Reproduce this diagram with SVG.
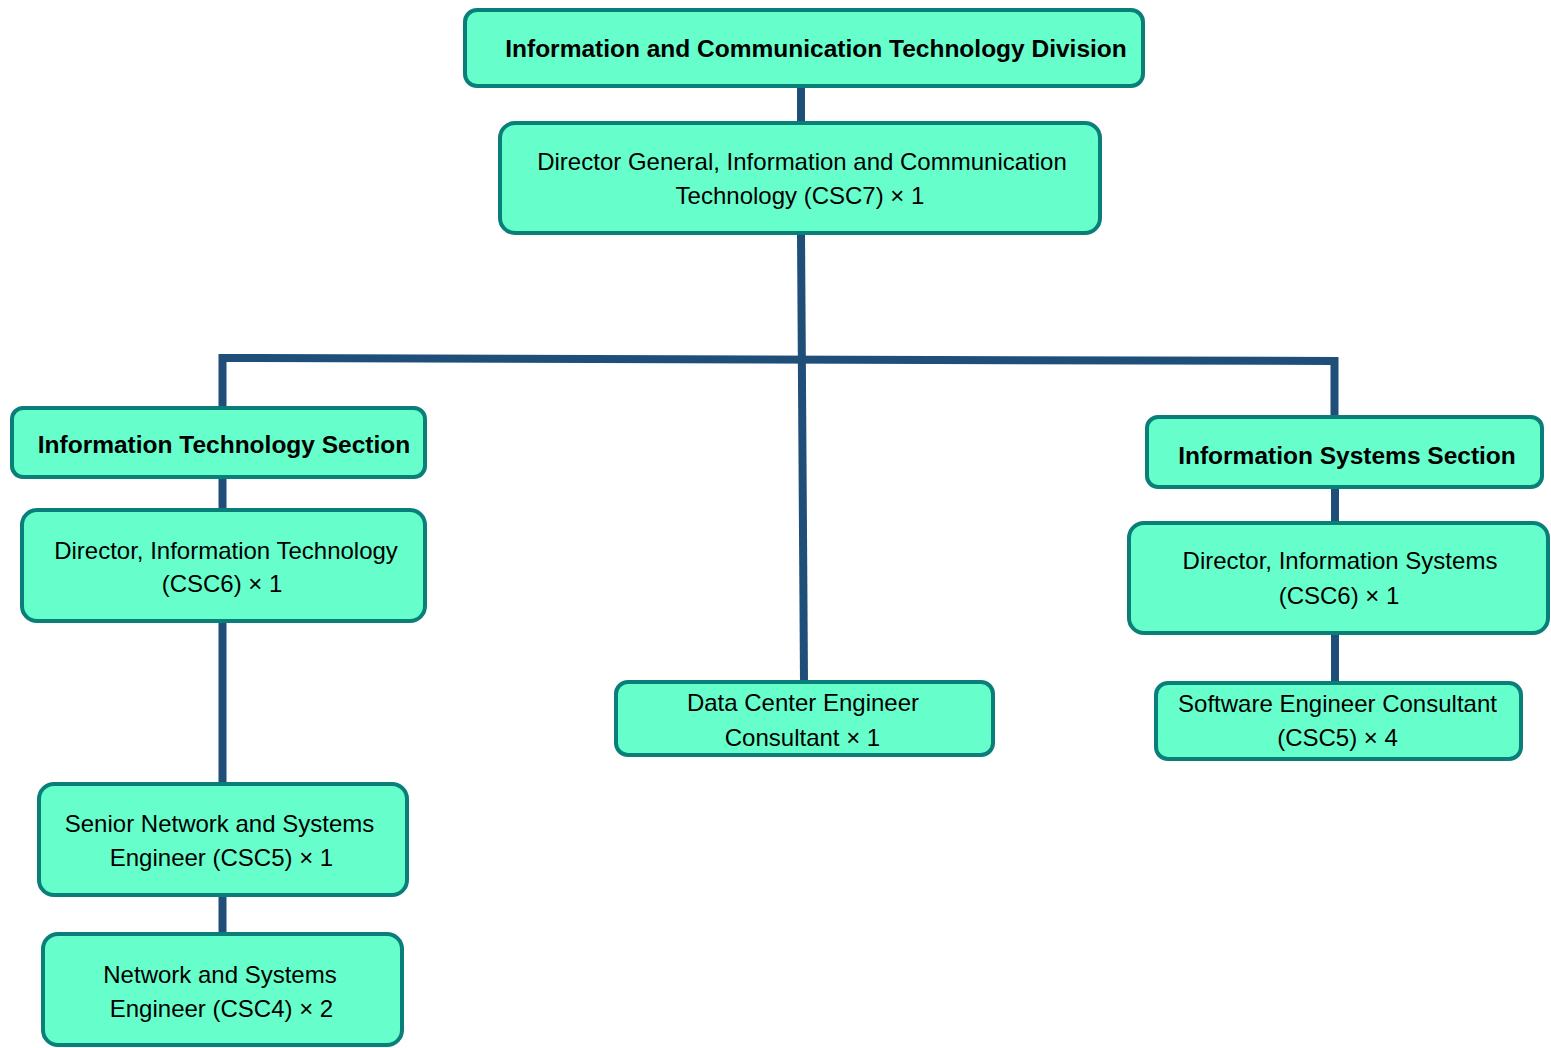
<svg xmlns="http://www.w3.org/2000/svg" width="1551" height="1048" viewBox="0 0 1551 1048">
<style>
.box{fill:#66FFCC;stroke:#0A7F7A;stroke-width:4}
.t{font-family:"Liberation Sans",Arial,sans-serif;font-size:24px;fill:#000;text-anchor:middle}
.b{font-weight:bold;font-size:24.5px}
.c{fill:none;stroke:#1F4E79;stroke-width:8;stroke-linejoin:miter;stroke-linecap:butt}
</style>
<rect width="1551" height="1048" fill="#FFFFFF"/>
<g id="connectors">
<path class="c" d="M801,86 L801,123"/>
<path class="c" d="M801,233 L804,682"/>
<path class="c" d="M222.5,408 L222.5,358 L1334.5,361 L1334.5,417"/>
<path class="c" d="M222.5,477 L222.5,510"/>
<path class="c" d="M222.5,621 L222.5,784"/>
<path class="c" d="M222.5,895 L222.5,934"/>
<path class="c" d="M1335,487 L1335,523"/>
<path class="c" d="M1335,633 L1335,683"/>
</g>
<g id="n-division">
<rect class="box" x="465" y="10" width="678" height="76" rx="12"/>
<text class="t b" x="816" y="57">Information and Communication Technology Division</text>
</g>
<g id="n-director-general">
<rect class="box" x="500" y="123" width="600" height="110" rx="15"/>
<text class="t" x="802" y="170">Director General, Information and Communication</text>
<text class="t" x="800" y="204">Technology (CSC7) × 1</text>
</g>
<g id="n-it-section">
<rect class="box" x="12" y="408" width="413" height="69" rx="11"/>
<text class="t b" x="224" y="453">Information Technology Section</text>
</g>
<g id="n-director-it">
<rect class="box" x="22" y="510" width="403" height="111" rx="15"/>
<text class="t" x="226" y="559">Director, Information Technology</text>
<text class="t" x="222" y="592">(CSC6) × 1</text>
</g>
<g id="n-senior-network">
<rect class="box" x="39" y="784" width="368" height="111" rx="15"/>
<text class="t" x="219.5" y="832">Senior Network and Systems</text>
<text class="t" x="221.5" y="866">Engineer (CSC5) × 1</text>
</g>
<g id="n-network">
<rect class="box" x="43" y="934" width="359" height="111" rx="15"/>
<text class="t" x="220" y="983">Network and Systems</text>
<text class="t" x="221.5" y="1017">Engineer (CSC4) × 2</text>
</g>
<g id="n-data-center">
<rect class="box" x="616" y="682" width="377" height="73" rx="12"/>
<text class="t" x="803" y="711">Data Center Engineer</text>
<text class="t" x="802.5" y="746">Consultant × 1</text>
</g>
<g id="n-is-section">
<rect class="box" x="1147" y="417" width="395" height="70" rx="11"/>
<text class="t b" x="1347" y="464">Information Systems Section</text>
</g>
<g id="n-director-is">
<rect class="box" x="1129" y="523" width="419" height="110" rx="15"/>
<text class="t" x="1340" y="569">Director, Information Systems</text>
<text class="t" x="1339" y="604">(CSC6) × 1</text>
</g>
<g id="n-software">
<rect class="box" x="1156" y="683" width="365" height="76" rx="12"/>
<text class="t" x="1337.5" y="712">Software Engineer Consultant</text>
<text class="t" x="1337.5" y="746">(CSC5) × 4</text>
</g>
</svg>
